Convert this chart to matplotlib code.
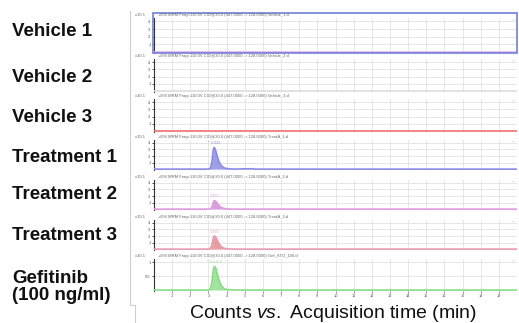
import matplotlib
matplotlib.use("Agg")
import matplotlib.pyplot as plt
from matplotlib.lines import Line2D
from matplotlib.patches import Rectangle

plt.rcParams["font.family"] = ["Liberation Sans", "DejaVu Sans"]
plt.rcParams["mathtext.fontset"] = "custom"
plt.rcParams["mathtext.rm"] = "Liberation Sans"
plt.rcParams["mathtext.it"] = "Liberation Sans:italic"

# --- data --------------------------------------------------------------
SAMPLES = ["Vehicle 1", "Vehicle 2", "Vehicle 3",
           "Treatment 1", "Treatment 2", "Treatment 3", "Gefitinib\n(100 ng/ml)"]
FILES = ["Vehicle_1.d", "Vehicle_2.d", "Vehicle_3.d",
         "TreatA_1.d", "TreatA_2.d", "TreatA_3.d", "Gef_STD_100.d"]

TIME = [0.0, 3.0, 3.1, 3.2, 3.25, 3.3, 3.35, 3.4, 3.5, 3.6, 3.7, 3.8, 3.9, 4.0, 4.2, 4.5, 5.4, 5.6, 20.0]

VEHICLE_1 = [0, 0, 0, 0, 0, 0, 0, 0, 0, 0, 0, 0, 0, 0, 0, 0, 0, 0, 0]
VEHICLE_2 = [0, 0, 0, 0, 0, 0, 0, 0, 0, 0, 0, 0, 0, 0, 0, 0, 0, 0, 0]
VEHICLE_3 = [0, 0, 0, 0, 0, 0, 0, 0, 0, 0, 0, 0, 0, 0, 0, 0, 0, 0, 0]
TREATMENT_1 = [0, 0, 0.1, 1.2, 2.6, 3.3, 3.2, 2.8, 1.8, 1.0, 0.55, 0.3, 0.15, 0.08, 0.03, 0.01, 0.06, 0.0, 0]
TREATMENT_2 = [0, 0, 0.03, 0.35, 0.9, 1.25, 1.3, 1.2, 0.85, 0.5, 0.28, 0.15, 0.08, 0.04, 0.01, 0, 0, 0, 0]
TREATMENT_3 = [0, 0, 0.06, 0.7, 1.5, 1.95, 2.0, 1.85, 1.3, 0.75, 0.4, 0.2, 0.1, 0.05, 0.02, 0, 0, 0, 0]
GEFITINIB = [0, 0, 0.03, 0.3, 0.65, 0.82, 0.85, 0.8, 0.55, 0.32, 0.17, 0.09, 0.04, 0.02, 0.01, 0, 0, 0, 0]
SERIES = [VEHICLE_1, VEHICLE_2, VEHICLE_3, TREATMENT_1, TREATMENT_2, TREATMENT_3, GEFITINIB]

PEAK_LABELS = [None, None, None, "* 3.333", "3.333", "3.333", "* 3.3 3 3"]
PEAK_RT = 3.33

Y_TICKS = [[1, 2, 3, 4]] * 6 + [[0.5, 1]]
Y_TICKLABELS = [["1", "2", "3", "4"]] * 6 + [["0.5", "1"]]
X_TICKS = list(range(1, 20))

FILL_COLORS = ["#e7b8ea", "#e6e6e6", "#ee8c8c", "#8f8fe6", "#cf8fd8", "#e58e8e", "#8fe08f"]
LINE_COLORS = ["#e7b0ea", "#dddddd", "#f07070", "#8a8ae8", "#e09ae0", "#e99ab0", "#86dc86"]

# pixel geometry of the screenshot (y from top)
W, H = 519, 323
BASE_PX = [52, 91, 131, 169, 209, 249, 290]
HEAD_PX = [15, 56, 96, 137, 177, 217, 256]
LABEL_PX = [32, 77, 118, 157, 194, 235, 287]
X0_PX, X1_PX = 154, 517


def fx(px):
    return px / W


def fy(py):
    return 1 - py / H


fig = plt.figure(figsize=(W / 100, H / 100), dpi=100)

for i, (name, vals) in enumerate(zip(SAMPLES, SERIES)):
    top_px = HEAD_PX[i] + 3
    bot_px = BASE_PX[i] + 1
    ax = fig.add_axes([fx(X0_PX), fy(bot_px), fx(X1_PX) - fx(X0_PX), (bot_px - top_px) / H])
    ymax = 1.12 if i == 6 else 4.45
    ax.set_xlim(0, 20)
    ax.set_ylim(-0.03 * ymax, ymax)
    ax.fill_between(TIME, 0, vals, color=FILL_COLORS[i], alpha=0.85, lw=0, zorder=2)
    ax.plot(TIME, vals, color=LINE_COLORS[i], lw=1.2, zorder=3)
    ax.set_xticks(X_TICKS)
    ax.set_yticks(Y_TICKS[i])
    ax.set_yticklabels(Y_TICKLABELS[i], fontsize=3, color="#555555")
    ax.grid(True, color="#dcdcdc", lw=0.5)
    ax.set_axisbelow(True)
    for s in ("top", "right", "bottom"):
        ax.spines[s].set_visible(False)
    ax.spines["left"].set_color("#333333")
    ax.spines["left"].set_linewidth(0.8)
    ax.tick_params(axis="y", length=1.5, width=0.5, pad=1)
    if i == 6:
        ax.set_xticklabels([str(t) for t in X_TICKS], fontsize=2.8, color="#555555")
        ax.tick_params(axis="x", length=1.5, width=0.5, pad=1, colors="#555555")
    else:
        ax.tick_params(axis="x", length=0, labelbottom=False)
    if PEAK_LABELS[i]:
        ax.text(PEAK_RT, max(vals) + 0.08 * ymax, PEAK_LABELS[i], fontsize=2.8,
                color=LINE_COLORS[i], ha="center", va="bottom")

    # header row of each MassHunter pane
    fig.text(fx(135), fy(HEAD_PX[i]), "x10 1", fontsize=3, color="#666666", va="center")
    fig.text(fx(158), fy(HEAD_PX[i]),
             "+ESI MRM Frag=110.0V CID@30.0 (447.0000 -> 128.0000) " + FILES[i] + "  ",
             fontsize=3, color="#666666", va="center")
    fig.text(fx(513), fy(HEAD_PX[i] + 6), "*", fontsize=3, color="#999999", va="center")

    # sample name at left
    fig.text(fx(12), fy(LABEL_PX[i]), name,
             fontsize=13.5, fontweight="bold", color="#111111", va="center",
             linespacing=1.05)

# selected-pane box around Vehicle 1
fig.add_artist(Rectangle((fx(153), fy(53)), fx(517) - fx(153), fy(13) - fy(53),
                         transform=fig.transFigure, fill=False, ec="#7080d8", lw=1.2))

# faint screenshot frame lines
frame = "#cfcfcf"
fig.add_artist(Line2D([fx(130), fx(130)], [fy(11), fy(305)], color=frame, lw=0.8))
fig.add_artist(Line2D([fx(130), fx(135)], [fy(305), fy(305)], color=frame, lw=0.8))
fig.add_artist(Line2D([fx(135), fx(135)], [fy(305), fy(323)], color=frame, lw=0.8))

fig.text(fx(333), fy(313), r"Counts $\it{vs.}$ Acquisition time (min)",
         fontsize=14, color="#111111", ha="center", va="center")

fig.savefig("out.png", dpi=100)
